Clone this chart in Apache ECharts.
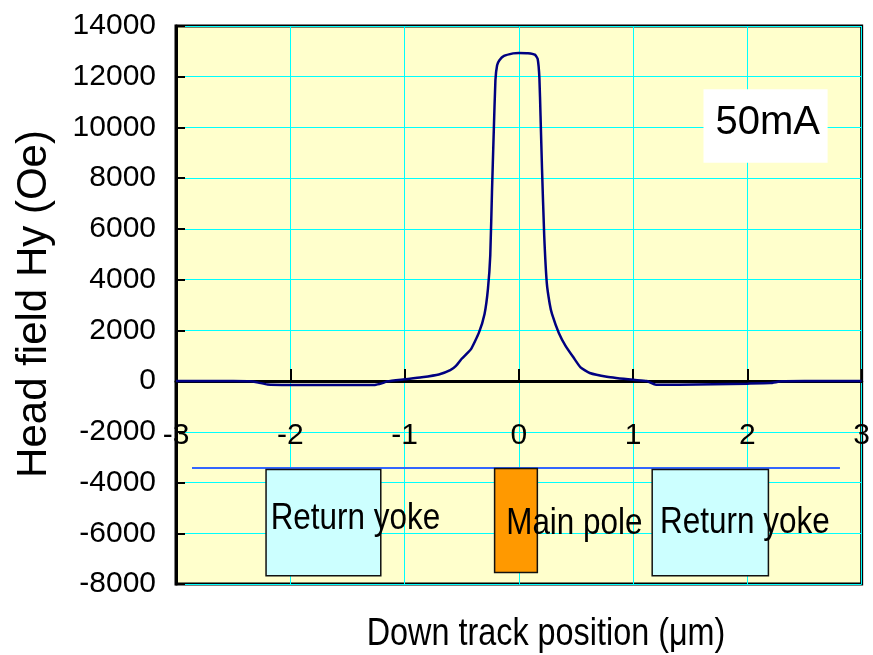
<!DOCTYPE html>
<html>
<head>
<meta charset="utf-8">
<script src="https://cdn.jsdelivr.net/npm/echarts@6/dist/echarts.min.js"></script>
<style>html,body{margin:0;padding:0;background:#fff}#c{width:873px;height:655px}</style>
</head>
<body>
<div id="c"></div>
<script>
// ---- data ----
const posX = [-3, -2.5, -2.35, -2.28, -2.2, -2.0, -1.7, -1.4, -1.26, -1.2, -1.15, -1.0, -0.85, -0.7, -0.6, -0.55, -0.5, -0.42, -0.35, -0.3, -0.27, -0.25, -0.235, -0.22, -0.205, -0.19, -0.17, -0.13, -0.05, 0.0, 0.08, 0.14, 0.165, 0.18, 0.19, 0.203, 0.222, 0.245, 0.27, 0.29, 0.35, 0.41, 0.48, 0.54, 0.62, 0.77, 1.0, 1.12, 1.2, 1.4, 1.7, 2.0, 2.2, 2.3, 2.5, 3];
const fieldHy = [0, 0, -10, -60, -130, -150, -155, -155, -150, -90, -10, 70, 150, 260, 430, 600, 880, 1250, 1900, 2650, 3650, 4950, 7450, 9750, 11850, 12450, 12650, 12820, 12920, 12940, 12930, 12870, 12700, 11950, 10450, 8350, 5750, 3850, 3050, 2650, 1900, 1380, 920, 540, 320, 175, 50, 0, -140, -140, -120, -100, -80, -10, 0, 0];
const trackX = [-2.86, 2.81];
const trackY = [-3430, -3430];
const partNames = ['Return yoke', 'Main pole', 'Return yoke'];
const partKind = ['yoke', 'pole', 'yoke'];
const partX0 = [-2.212, -0.212, 1.167];
const partX1 = [-1.208, 0.162, 2.184];
const partY0 = [-7677, -7543, -7677];
const partY1 = [-3482, -3442, -3482];
const partLabelX = [-1.43, 0.486, 1.978];
const partLabelY = [-5442, -5639, -5599];
const noteText = ['50mA'];
const noteX0 = [1.616], noteX1 = [2.702], noteY0 = [8608], noteY1 = [11502];
const noteLabelX = [2.178], noteLabelY = [10193];
const xTicks = [-3, 3, 1];        // min, max, interval
const yTicks = [-8000, 14000, 2000];
const xTitle = 'Down track position (\u03bcm)';
const yTitle = 'Head field Hy (Oe)';

// ---- chart ----
const FONT = '"Liberation Sans", Arial, sans-serif';
const kindFill = { yoke: '#CCFFFF', pole: '#FF9900' };
const chart = echarts.init(document.getElementById('c'), null, { renderer: 'canvas' });
chart.setOption({
  animation: false,
  backgroundColor: '#ffffff',
  grid: { left: 176, right: 6, top: 26, bottom: 71, show: true, backgroundColor: '#FFFFCC', borderColor: '#000', borderWidth: 3 },
  xAxis: {
    type: 'value', min: xTicks[0], max: xTicks[1], interval: xTicks[2],
    axisLine: { onZero: true, lineStyle: { color: '#000', width: 3 } },
    axisTick: { inside: true, length: 12, lineStyle: { color: '#000', width: 2 } },
    axisLabel: { margin: 40, fontSize: 30, color: '#000', fontFamily: FONT, formatter: v => String(v) },
    splitLine: { show: true, lineStyle: { color: '#00FFFF', width: 1 } }
  },
  yAxis: {
    type: 'value', min: yTicks[0], max: yTicks[1], interval: yTicks[2],
    axisLine: { show: true, onZero: false, lineStyle: { color: '#000', width: 3 } },
    axisTick: { show: true, inside: true, length: 9, lineStyle: { color: '#000', width: 2 } },
    axisLabel: { margin: 20, fontSize: 30, color: '#000', fontFamily: FONT, formatter: v => String(v) },
    splitLine: { show: true, lineStyle: { color: '#00FFFF', width: 1 } }
  },
  graphic: [
    { type: 'text', x: 34, y: 304, rotation: Math.PI / 2, z: 10,
      style: { text: yTitle, fontSize: 42, fontFamily: FONT, fill: '#000', align: 'center', verticalAlign: 'middle' } },
    { type: 'text', x: 546, y: 634, scaleX: 0.83, z: 10,
      style: { text: xTitle, fontSize: 39, fontFamily: FONT, fill: '#000', align: 'center', verticalAlign: 'middle' } }
  ],
  series: [
    {
      type: 'line', data: trackX.map((x, i) => [x, trackY[i]]), symbol: 'none', silent: true, z: 3,
      lineStyle: { color: '#3366FF', width: 2 }
    },
    {
      type: 'custom', z: 4, silent: true,
      data: partX0.map((x, i) => [x, partX1[i], partY0[i], partY1[i]]),
      encode: { x: [0, 1], y: [2, 3] },
      renderItem: function (params, api) {
        const i = params.dataIndex;
        const a = api.coord([api.value(0), api.value(3)]);
        const b = api.coord([api.value(1), api.value(2)]);
        return { type: 'rect', shape: { x: a[0], y: a[1], width: b[0] - a[0], height: b[1] - a[1] },
          style: { fill: kindFill[partKind[i]], stroke: '#111', lineWidth: 1.5 } };
      }
    },
    {
      type: 'custom', z: 5, silent: true,
      data: partLabelX.map((x, i) => [x, partLabelY[i]]),
      renderItem: function (params, api) {
        const i = params.dataIndex;
        const p = api.coord([api.value(0), api.value(1)]);
        return { type: 'text', x: p[0], y: p[1], scaleX: 0.85,
          style: { text: partNames[i], fontSize: 37, fontFamily: FONT, fill: '#000', align: 'center', verticalAlign: 'middle' } };
      }
    },
    {
      type: 'custom', z: 5, silent: true,
      data: noteX0.map((x, i) => [x, noteX1[i], noteY0[i], noteY1[i], noteLabelX[i], noteLabelY[i]]),
      encode: { x: [0, 1], y: [2, 3] },
      renderItem: function (params, api) {
        const i = params.dataIndex;
        const a = api.coord([api.value(0), api.value(3)]);
        const b = api.coord([api.value(1), api.value(2)]);
        const t = api.coord([api.value(4), api.value(5)]);
        return { type: 'group', children: [
          { type: 'rect', shape: { x: a[0], y: a[1], width: b[0] - a[0], height: b[1] - a[1] }, style: { fill: '#ffffff' } },
          { type: 'text', x: t[0], y: t[1],
            style: { text: noteText[i], fontSize: 40, fontFamily: FONT, fill: '#000', align: 'center', verticalAlign: 'middle' } }
        ] };
      }
    },
    {
      type: 'line', data: posX.map((x, i) => [x, fieldHy[i]]), symbol: 'none', z: 6,
      smooth: 0.15, lineStyle: { color: '#000080', width: 2.5 }
    }
  ]
});
// Excel draws the x tick labels just under the zero line; ECharts 6 keeps them at the grid edge,
// so shift them by the distance between the zero line and the grid bottom.
(function () {
  const zeroY = chart.convertToPixel({ yAxisIndex: 0 }, 0);
  const bottomY = chart.convertToPixel({ yAxisIndex: 0 }, yTicks[0]);
  const labelTop = chart.getOption().xAxis[0].axisLabel.margin;
  const axisLine = chart.getModel().getComponent('xAxis', 0);
  // if the axis line itself sits on zero but labels sit at the bottom, pull labels up
  chart.setOption({ xAxis: { axisLabel: { margin: labelTop - (bottomY - zeroY) } } });
})();
</script>
</body>
</html>
